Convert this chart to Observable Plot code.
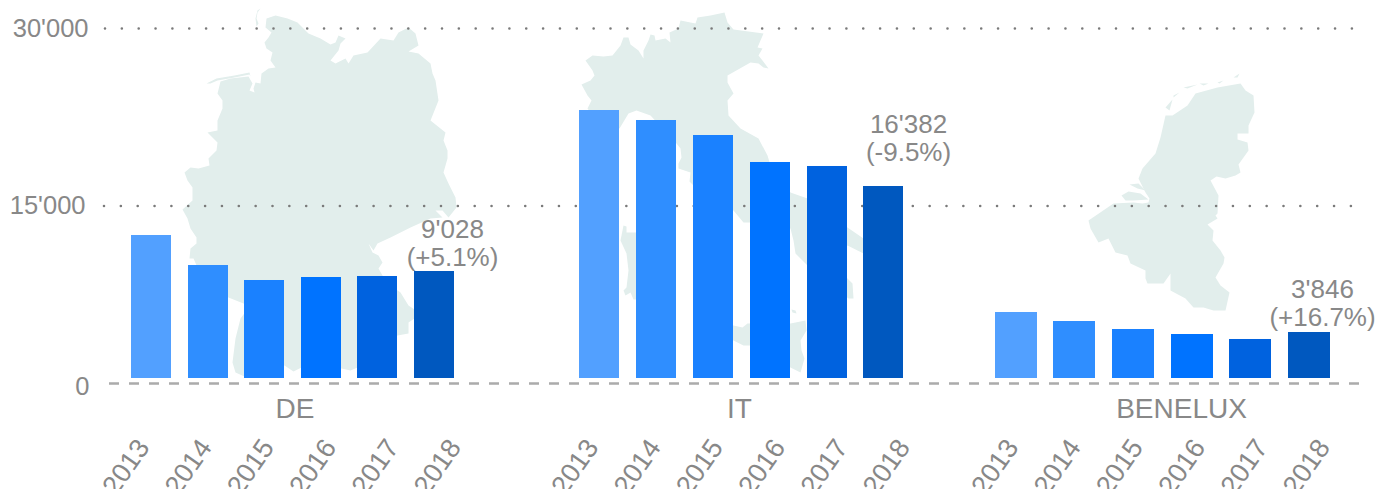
<!DOCTYPE html>
<html>
<head>
<meta charset="utf-8">
<style>html,body{margin:0;padding:0;background:#fff;overflow:hidden}svg{display:block}</style>
<script src="https://cdn.jsdelivr.net/npm/d3@7"></script>
<script src="https://cdn.jsdelivr.net/npm/@observablehq/plot@0.6"></script>
</head>
<body>
<script>
const years = [2013, 2014, 2015, 2016, 2017, 2018];
const regions = ["DE", "IT", "BENELUX"];
const valuesDE = [12085, 9549, 8282, 8535, 8620, 9042];
const valuesIT = [22648, 21803, 20535, 18254, 17916, 16225];
const valuesBENELUX = [5577, 4817, 4141, 3718, 3296, 3887];
const labelValues = ["9'028", "16'382", "3'846"];
const labelChanges = ["(+5.1%)", "(-9.5%)", "(+16.7%)"];
const yTicks = [0, 15000, 30000];
const yTickLabels = ["0", "15'000", "30'000"];

// layout, kept apart from the data
const barColors = ["#52a0ff", "#2f8eff", "#1a81ff", "#0073ff", "#0062df", "#0058bf"];
const barLefts = [[131, 188, 244, 301, 357, 414], [579, 636, 693, 750, 807, 863], [995, 1053, 1112, 1171, 1229, 1288]];
const barWidths = [40, 40, 42];
const regionCenters = [294.5, 739, 1181];
const yearLabelStart = [143, 592, 1012];
const noteCenters = [452, 908, 1322];
const noteBaselines = [265, 160, 325];
const tickEnds = [89, 85, 88];
const tickShift = [3, 0, 0];
const H = 489, Y0 = 383, Y30 = 28;
const toValue = py => (Y0 - py) * 30000 / (Y0 - Y30);

// silhouettes
const outlines = [
  [[260,8],[257,10],[255,18],[256,26],[258,23],[256,18],[257,12]],
  [[206,83],[216,78],[234,75],[249,72],[250,76],[249,74],[234,77],[217,80],[210,83]],
  [[266,18],[275,15],[287,18],[297,22],[308,33],[320,38],[330,44],[335,42],[338,35],[345,38],[340,43],[338,50],[330,60],[335,63],[345,58],[348,63],[353,55],[367,52],[380,38],[393,40],[398,32],[408,27],[415,33],[418,45],[408,51],[418,53],[430,63],[432,73],[435,80],[438,100],[430,120],[445,132],[443,140],[447,150],[447,158],[443,172],[448,183],[455,197],[456,207],[448,217],[442,210],[435,210],[442,217],[430,218],[410,227],[390,237],[377,243],[373,250],[368,243],[372,252],[378,255],[382,262],[378,268],[382,275],[390,285],[400,292],[408,305],[414,309],[425,312],[420,318],[414,318],[408,322],[408,333],[397,335],[380,345],[357,367],[350,370],[341,368],[320,372],[301,367],[293,371],[284,365],[265,370],[244,376],[235,372],[232,362],[235,338],[240,318],[246,310],[250,306],[243,303],[228,297],[205,285],[193,258],[189,258],[190,248],[196,243],[196,237],[190,228],[187,218],[182,209],[192,200],[192,187],[187,180],[184,172],[190,167],[198,168],[209,165],[208,158],[216,150],[217,142],[207,132],[217,130],[217,120],[222,108],[222,100],[217,93],[220,81],[230,78],[248,76],[252,83],[249,90],[254,92],[253,88],[255,82],[260,83],[261,73],[268,68],[275,67],[270,60],[272,52],[266,48],[264,42],[268,37],[271,32],[265,27]],
  [[585,60],[592,55],[603,56],[612,55],[620,45],[623,37],[628,37],[630,44],[638,50],[643,58],[643,50],[648,40],[650,34],[654,35],[655,40],[665,38],[670,42],[669,32],[678,28],[680,20],[695,23],[697,17],[710,15],[724,12],[727,22],[733,29],[763,33],[757,47],[762,48],[758,55],[762,60],[768,68],[763,67],[758,63],[750,62],[727,75],[727,82],[733,93],[727,100],[728,115],[740,128],[758,138],[767,155],[770,165],[790,192],[807,198],[847,227],[863,238],[880,250],[863,253],[847,245],[835,255],[838,270],[847,278],[852,283],[853,298],[848,298],[838,290],[807,265],[795,253],[793,240],[790,228],[750,222],[743,222],[733,210],[693,185],[689,181],[690,172],[678,168],[678,163],[681,157],[680,148],[676,143],[650,115],[636,110],[628,113],[619,128],[600,125],[587,108],[591,100],[587,95],[581,84],[590,80],[594,75],[592,70]],
  [[623,225],[626,226],[626,232],[645,232],[645,299],[633,299],[630,292],[625,295],[623,290],[626,287],[628,270],[626,253],[620,240],[622,230]],
  [[725,325],[733,325],[742,327],[747,323],[790,323],[805,320],[806,330],[800,340],[801,350],[804,358],[800,372],[790,367],[750,345],[743,345],[733,340],[725,335]],
  [[791,309],[795,310],[796,313],[792,312]],
  [[1165,115],[1172,115],[1187,105],[1195,93],[1217,87],[1240,83],[1245,90],[1253,95],[1254,112],[1248,125],[1248,133],[1237,133],[1237,139],[1247,142],[1248,150],[1238,164],[1240,172],[1235,175],[1225,178],[1216,176],[1210,180],[1218,195],[1217,213],[1215,215],[1217,218],[1207,224],[1213,230],[1212,240],[1220,250],[1224,257],[1223,263],[1215,277],[1220,285],[1229,292],[1225,310],[1213,310],[1203,307],[1193,307],[1185,298],[1170,290],[1170,273],[1163,283],[1147,283],[1145,278],[1145,270],[1130,263],[1127,255],[1115,252],[1108,238],[1098,242],[1090,228],[1088,220],[1113,203],[1133,202],[1142,203],[1148,202],[1149,198],[1145,192],[1138,178],[1142,168],[1155,153],[1160,137]],
  [[1121,195],[1128,191],[1140,193],[1148,199],[1133,200],[1125,200]],
  [[1129,184],[1138,183],[1145,190],[1137,188]],
  [[1165,107],[1172,99],[1169,110]],
  [[1173,95],[1179,92],[1173,97]],
  [[1183,87],[1197,84],[1187,88]],
  [[1199,83],[1208,83],[1203,85]],
  [[1217,82],[1223,80],[1219,83]],
  [[1233,77],[1239,73],[1237,77]]
];
const mapRows = outlines.flatMap((shape, id) => shape.map(([x, y]) => ({id, x, y: toValue(y)})));

const seriesByRegion = [valuesDE, valuesIT, valuesBENELUX];
const barRows = regions.flatMap((region, r) => years.map((year, i) => ({
  region, year, value: seriesByRegion[r][i], x1: barLefts[r][i], x2: barLefts[r][i] + barWidths[r], color: barColors[i]
})));
const yearRows = regions.flatMap((region, r) => years.map((year, i) => ({year: String(year), x: yearLabelStart[r] + i * 62.3})));
const regionRows = regions.map((region, r) => ({region, x: regionCenters[r]}));
const noteRows = regions.map((region, r) => ({
  text: labelValues[r] + "\n" + labelChanges[r], x: noteCenters[r], y: toValue(noteBaselines[r])
}));
const tickRows = yTicks.map((v, i) => ({v: v + toValue(Y0 + tickShift[i]), label: yTickLabels[i], x: tickEnds[i]}));

const grey = "#888888";
const font = {fontSize: 26, fill: grey};
const tickFont = {fontSize: 25.5, fill: grey};
const fontLarge = {fontSize: 28, fill: grey};
const yearFont = {fontSize: 27, fill: grey};
const dotted = {stroke: "#7a7a7a", strokeWidth: 2.6, strokeLinecap: "round", strokeDasharray: "0 16.85"};
const chart = Plot.plot({
  width: 1375, height: H,
  margin: 0,
  style: {fontFamily: "'Liberation Sans', Arial, sans-serif", background: "#fff"},
  x: {domain: [0, 1375], range: [0, 1375], axis: null},
  y: {domain: [0, 30000], range: [Y0, Y30], axis: null},
  marks: [
    Plot.line(mapRows, {x: "x", y: "y", z: "id", fill: "#e2eeec", stroke: "none", curve: "linear-closed"}),
    Plot.ruleY([30000], {x1: 105, x2: 1353, ...dotted}),
    Plot.ruleY([15000], {x1: 104, x2: 1351, ...dotted}),
    Plot.ruleY([0], {x1: 109, x2: 1359, stroke: "#ababab", strokeWidth: 2.4, strokeDasharray: "10 10"}),
    Plot.rectY(barRows, {x1: "x1", x2: "x2", y: "value", fill: "color", dy: -5}),
    Plot.text(tickRows, {x: "x", y: "v", text: "label", textAnchor: "end", ...tickFont}),
    Plot.text(regionRows, {x: "x", y: () => 0, text: "region", dy: 26, ...fontLarge}),
    Plot.text(yearRows, {x: "x", y: () => 0, text: "year", rotate: -55, textAnchor: "end", dy: 59, ...yearFont}),
    Plot.text(noteRows, {x: "x", y: "y", text: "text", lineAnchor: "bottom", lineHeight: 1.04, ...font})
  ]
});
document.body.appendChild(chart);
</script>
</body>
</html>
